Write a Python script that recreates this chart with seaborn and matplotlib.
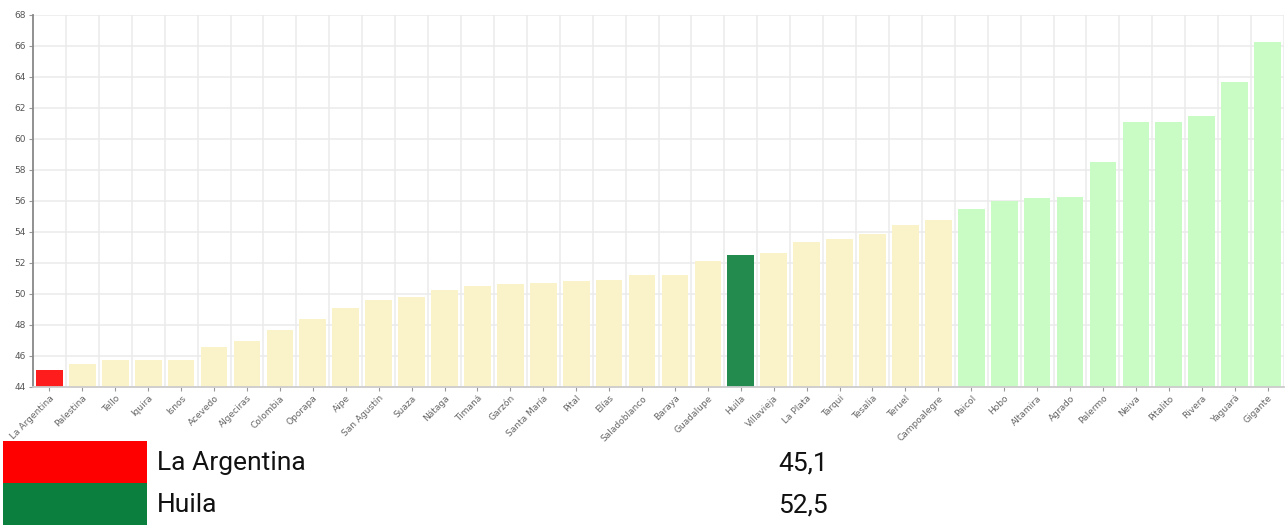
import matplotlib.pyplot as plt
import numpy as np
import pandas as pd
import seaborn as sns
from matplotlib.patches import Rectangle


municipios = ['La Argentina', 'Palestina', 'Tello', 'Iquira', 'Isnos', 'Acevedo',
              'Algeciras', 'Colombia', 'Oporapa', 'Aipe', 'San Agustín', 'Suaza',
              'Nátaga', 'Timaná', 'Garzón', 'Santa María', 'Pital', 'Elías',
              'Saladoblanco', 'Baraya', 'Guadalupe', 'Huila', 'Villavieja', 'La Plata',
              'Tarqui', 'Tesalia', 'Teruel', 'Campoalegre', 'Paicol', 'Hobo',
              'Altamira', 'Agrado', 'Palermo', 'Neiva', 'Pitalito', 'Rivera',
              'Yaguará', 'Gigante']
valores = [45.1, 45.46, 45.7, 45.7, 45.75, 46.56,
           46.97, 47.66, 48.37, 49.08, 49.6, 49.8,
           50.26, 50.5, 50.65, 50.72, 50.8, 50.87,
           51.2, 51.2, 52.13, 52.5, 52.65, 53.34,
           53.53, 53.83, 54.42, 54.78, 55.5, 55.98,
           56.17, 56.22, 58.52, 61.07, 61.07, 61.46,
           63.68, 66.28]

seleccionado = 'La Argentina'
referencia = 'Huila'
y_ticks = list(range(44, 69, 2))

col_sel = '#ff1c1c'
col_ref = '#238b4e'
col_bajo = '#faf2c8'
col_alto = '#c8fcc4'
col_sel_tabla = '#ff0000'
col_ref_tabla = '#0b7f3e'


def color_for(name, val):
    if name == seleccionado:
        return col_sel
    if name == referencia:
        return col_ref
    return col_alto if val > 55 else col_bajo


df = pd.DataFrame({'municipio': municipios, 'valor': valores})
palette = {m: color_for(m, v) for m, v in zip(municipios, valores)}

sns.set_theme(style='white')
plt.rcParams['font.family'] = ['Roboto', 'DejaVu Sans']

fig = plt.figure(figsize=(12.86, 5.25), dpi=100)
ax = fig.add_axes([33 / 1286, 1 - 386.7 / 525, (1284 - 33) / 1286, (386.7 - 15) / 525])

sns.barplot(data=df, x='municipio', y='valor', hue='municipio', palette=palette,
            width=0.81, legend=False, ax=ax, linewidth=0, saturation=1)

ax.set_ylim(44, 68)
ax.set_xlim(-0.5, len(municipios) - 0.5)
ax.set_yticks(y_ticks)
ax.set_yticklabels([str(t) for t in y_ticks], fontsize=6.5, color='#555555',
                   family='DejaVu Sans')
ax.set_xticks(range(len(municipios)))
ax.set_xticklabels(municipios, rotation=45, ha='right', rotation_mode='anchor',
                   fontsize=6.5, color='#666666', family='DejaVu Sans')
ax.set_xticks(np.arange(len(municipios)) + 0.5, minor=True)
ax.set_xlabel('')
ax.set_ylabel('')
ax.set_axisbelow(True)
ax.grid(axis='y', color='#ebebeb', linewidth=1.1)
ax.grid(axis='x', which='minor', color='#ebebeb', linewidth=1.1)
ax.grid(axis='x', which='major', visible=False)
ax.tick_params(axis='both', which='major', length=3, width=0.8, color='#999999',
               bottom=True, left=True, pad=2)
ax.tick_params(axis='x', which='minor', length=0)
for side in ['top', 'right']:
    ax.spines[side].set_visible(False)
ax.spines['left'].set_color('#888888')
ax.spines['left'].set_linewidth(1.3)
ax.spines['bottom'].set_color('#cccccc')
ax.spines['bottom'].set_linewidth(1.3)

# tabla inferior con los dos valores resaltados
filas = [(seleccionado, col_sel_tabla), (referencia, col_ref_tabla)]
for k, (nombre, col) in enumerate(filas):
    top = 441 + 42 * k
    fig.add_artist(Rectangle((3 / 1286, 1 - (top + 42) / 525), 144 / 1286, 42 / 525,
                             transform=fig.transFigure, facecolor=col, edgecolor='none'))
    yc = 1 - (top + 22) / 525
    val = valores[municipios.index(nombre)]
    fig.text(157 / 1286, yc, nombre, fontsize=19, color='#111111', va='center')
    fig.text(778 / 1286, yc, f'{val:.1f}'.replace('.', ','), fontsize=19,
             color='#111111', va='center')

fig.savefig('out.png', dpi=100)
